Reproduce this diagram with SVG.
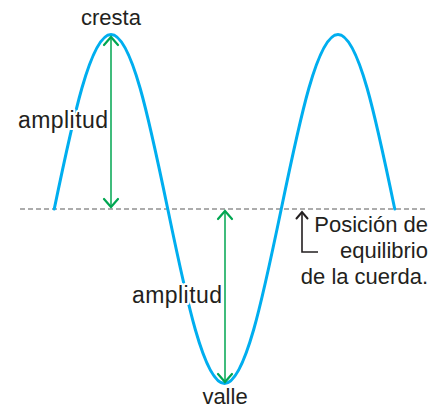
<svg xmlns="http://www.w3.org/2000/svg" width="440" height="411" viewBox="0 0 440 411">
<style>
.lbl{font-family:"Liberation Sans",Arial,sans-serif;font-size:22px;fill:#231f20;stroke:#fff;stroke-width:4;paint-order:stroke;stroke-linejoin:round}
.amp-lbl{font-size:23px}
.wave{fill:none;stroke:#00aeef;stroke-width:3;stroke-linecap:round}
.amp{fill:none;stroke:#00a651;stroke-width:1.5}
.head{fill:none;stroke:#00a651;stroke-width:2.2;stroke-linecap:round;stroke-linejoin:miter}
.eq{fill:none;stroke:#5a5a5a;stroke-width:1.2;stroke-dasharray:5 3}
.ptr{fill:none;stroke:#231f20;stroke-width:1.6}
.ptrhead{fill:none;stroke:#231f20;stroke-width:2;stroke-linecap:round}
</style>
<rect width="440" height="411" fill="#fff"/>
<g id="equilibrio-line">
<line class="eq" x1="20" y1="209" x2="428" y2="209"/>
</g>
<g id="wave">
<path class="wave" d="M54.25,209 C72.76,119.6 90.46,34.5 111,34.5 C131.54,34.5 149.24,119.6 167.75,209 C186.26,298.4 203.96,383.5 224.5,383.5 C245.04,383.5 262.74,298.4 281.25,209 C299.76,119.6 317.46,34.5 338,34.5 C358.54,34.5 376.24,119.6 394.75,209"/>
</g>
<g id="connectors">
<line class="amp" x1="111" y1="37" x2="111" y2="207"/>
<polyline class="head" points="104,45 111,37 118,45"/>
<polyline class="head" points="104,199 111,207 118,199"/>
<line class="amp" x1="225" y1="211" x2="225" y2="382"/>
<polyline class="head" points="218,219 225,211 232,219"/>
<polyline class="head" points="218,374 225,382 232,374"/>
<polyline class="ptr" points="302,212 302,252 318,252"/>
<polyline class="ptrhead" points="296.5,218.5 302,212 307.5,218.5"/>
</g>
<g id="label-cresta"><text class="lbl" x="111" y="25" text-anchor="middle">cresta</text></g>
<g id="label-amplitud-1"><text class="lbl amp-lbl" x="18" y="128" textLength="90" lengthAdjust="spacing">amplitud</text></g>
<g id="label-amplitud-2"><text class="lbl amp-lbl" x="132" y="303" textLength="90" lengthAdjust="spacing">amplitud</text></g>
<g id="label-valle"><text class="lbl" x="225" y="404" text-anchor="middle">valle</text></g>
<g id="label-posicion">
<text class="lbl" text-anchor="end"><tspan x="428" y="232">Posición de</tspan><tspan x="428" y="258">equilibrio</tspan><tspan x="428" y="284">de la cuerda.</tspan></text>
</g>
</svg>
